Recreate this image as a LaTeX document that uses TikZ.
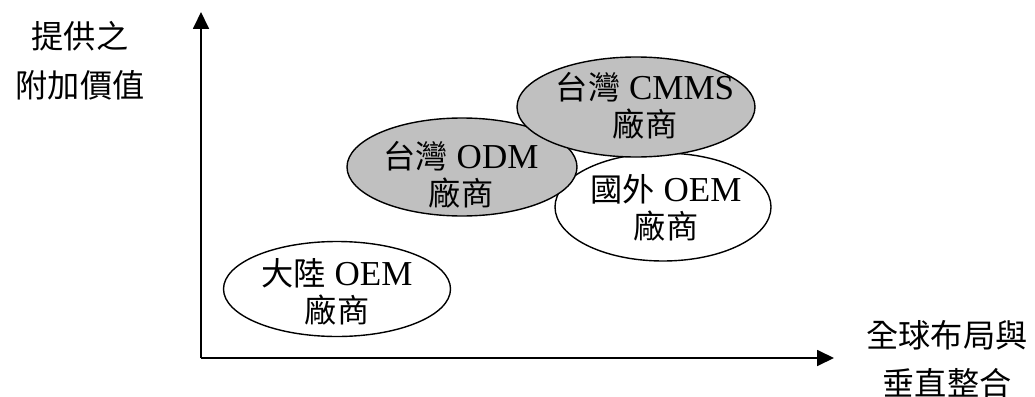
\documentclass[tikz,border=0pt]{standalone}
\usepackage{fontspec}
\setmainfont{Liberation Serif}
\newfontfamily\cjk{Noto Sans CJK TC}[Scale=0.92]
\usetikzlibrary{shapes.geometric,arrows.meta}
\definecolor{ellgray}{RGB}{192,192,192}
\tikzset{
  ell/.style={ellipse, draw=black, line width=1.4pt, inner sep=0pt},
  grayell/.style={ell, fill=ellgray},
  whiteell/.style={ell, fill=white},
  lbl/.style={align=center, inner sep=0pt, font=\fontsize{35}{37}\selectfont},
  axlbl/.style={align=center, inner sep=0pt},
  axis/.style={line width=1.8pt, -{Triangle[width=16pt,length=17pt]}}
}
\begin{document}
\begin{tikzpicture}[x=1pt,y=-1pt]
\useasboundingbox (0,0) rectangle (1035,396);
% axes
\coordinate (origin) at (201,358);
\coordinate (ytip) at (201,12);
\coordinate (xtip) at (834,358);
\draw[axis] (origin) -- (ytip);
\draw[axis] (origin) -- (xtip);
% ellipses
\node[whiteell, minimum width=227pt, minimum height=95pt] (mainland) at (337,289) {};
\node[whiteell, minimum width=216pt, minimum height=108pt] (foreign) at (663,207) {};
\node[grayell, minimum width=230pt, minimum height=98pt] (odm) at (462,167) {};
\node[grayell, minimum width=238pt, minimum height=100pt] (cmms) at (636,107) {};
% texts
\node[lbl] (tmainland) at (337,292) {{\cjk 大陸} OEM\\{\cjk 廠商}};
\node[lbl] (tforeign) at (666,208) {{\cjk 國外} OEM\\{\cjk 廠商}};
\node[lbl] (todm) at (461,175) {{\cjk 台灣} ODM\\{\cjk 廠商}};
\node[lbl] (tcmms) at (645,106) {{\cjk 台灣} CMMS\\{\cjk 廠商}};
\node[axlbl, font=\cjk\fontsize{35}{49}\selectfont] (ylabel) at (80,61) {提供之\\附加價值};
\node[axlbl, font=\cjk\fontsize{35}{48}\selectfont] (xlabel) at (947,359) {全球布局與\\垂直整合};
\end{tikzpicture}
\end{document}
